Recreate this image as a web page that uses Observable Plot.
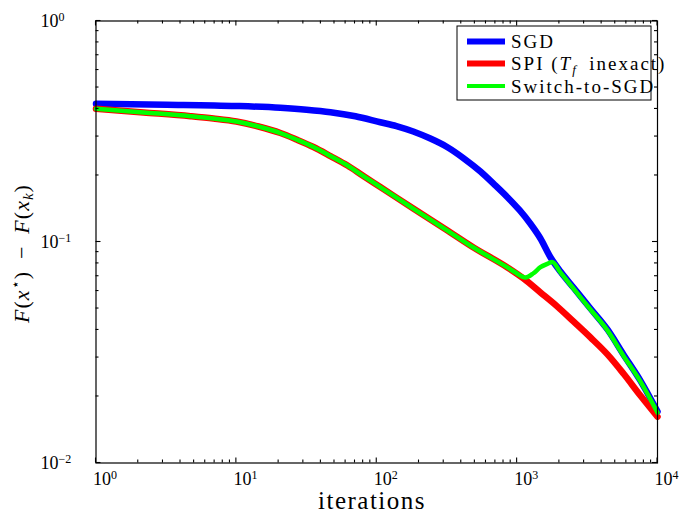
<!DOCTYPE html>
<html><head><meta charset="utf-8">
<script src="https://cdn.jsdelivr.net/npm/d3@7"></script>
<script src="https://cdn.jsdelivr.net/npm/@observablehq/plot@0.6"></script>
<style>body{margin:0;background:#fff}#chart svg{display:block}</style>
</head><body><div id="chart"></div>
<script>
// ---- data ----
const xTicks = [1, 10, 100, 1000, 10000];
const xTickLabels = ["10^0", "10^1", "10^2", "10^3", "10^4"];
const yTicks = [0.01, 0.1, 1];
const yTickLabels = ["10^-2", "10^-1", "10^0"];
const seriesNames = ["SGD", "SPI (T_f inexact)", "Switch-to-SGD"];
const seriesColors = ["#0000ff", "#ff0000", "#00ff00"];

const sgdIter = [1, 3.18, 10, 20.6, 31.6, 46.8, 70.5, 106, 138, 182, 241, 319, 414, 548, 689, 853, 1038, 1244, 1466, 1727, 2034, 2518, 3328, 4400, 5717, 7550, 10000];
const sgdGap  = [0.4219, 0.4180, 0.4124, 0.4047, 0.3968, 0.3866, 0.3705, 0.3483, 0.3348, 0.3162, 0.2938, 0.2685, 0.2399, 0.2084, 0.1820, 0.1595, 0.1396, 0.1209, 0.1037, 0.0853, 0.0735, 0.0622, 0.0500, 0.0402, 0.0310, 0.0236, 0.0171];

const spiIter = [1, 2.18, 4.71, 6.86, 10, 14.35, 20.6, 26.8, 35.4, 46.8, 61.9, 80.3, 106, 182, 319, 489, 853, 1109, 1466, 1936, 2518, 3328, 4400, 5717, 7550, 10000];
const spiGap  = [0.4006, 0.3855, 0.3709, 0.3621, 0.3509, 0.3332, 0.3112, 0.2909, 0.2691, 0.2449, 0.2219, 0.1988, 0.1773, 0.1417, 0.1127, 0.0944, 0.0767, 0.0684, 0.0591, 0.0510, 0.0437, 0.0370, 0.0310, 0.0254, 0.0202, 0.0162];

const swIter = [1, 2.18, 4.71, 6.86, 10, 14.35, 20.6, 26.8, 35.4, 46.8, 61.9, 80.3, 106, 182, 319, 489, 853, 973, 1146, 1307, 1466, 1636, 1776, 2034, 2518, 3328, 4400, 5717, 7550, 10000];
const swGap  = [0.4006, 0.3855, 0.3709, 0.3621, 0.3509, 0.3332, 0.3112, 0.2909, 0.2691, 0.2449, 0.2219, 0.1988, 0.1773, 0.1417, 0.1127, 0.0944, 0.0767, 0.0728, 0.0691, 0.0722, 0.0769, 0.0796, 0.0812, 0.0728, 0.0616, 0.0495, 0.0398, 0.0306, 0.0234, 0.0169];

const toRows = (xs, ys) => xs.map((x, i) => ({x, y: ys[i]}));
const sgd = toRows(sgdIter, sgdGap);
const spi = toRows(spiIter, spiGap);
const sw = toRows(swIter, swGap);

const minorX = [], minorY = [];
for (let d = 0; d < 4; d++) for (let m = 2; m <= 9; m++) minorX.push(m * 10 ** d);
for (let d = -2; d < 0; d++) for (let m = 2; m <= 9; m++) minorY.push(m * 10 ** d);

const FONT = "Liberation Serif";
const xLab = new Map(xTicks.map((t, i) => [t, xTickLabels[i]]));
const yLab = new Map(yTicks.map((t, i) => [t, yTickLabels[i]]));

const chart = Plot.plot({
  width: 679,
  height: 516,
  marginLeft: 95.5,
  marginRight: 22,
  marginTop: 20.5,
  marginBottom: 53.5,
  style: {fontFamily: FONT, background: "white", color: "black"},
  x: {type: "log", domain: [1, 10000]},
  y: {type: "log", domain: [0.01, 1]},
  marks: [
    Plot.line(sgd, {x: "x", y: "y", stroke: seriesColors[0], strokeWidth: 6.5, curve: "monotone-x"}),
    Plot.line(spi, {x: "x", y: "y", stroke: seriesColors[1], strokeWidth: 6.5, curve: "monotone-x"}),
    Plot.line(sw, {x: "x", y: "y", stroke: seriesColors[2], strokeWidth: 4.5, curve: "monotone-x"}),
    Plot.frame({stroke: "black", strokeWidth: 1.2}),
    Plot.axisX(xTicks, {anchor: "bottom", tickSize: 0, tickPadding: 9, fontSize: 18, dx: 9, tickFormat: d => xLab.get(d), label: null}),
    Plot.axisY(yTicks, {anchor: "left", tickSize: 0, tickPadding: 55.5, fontSize: 18, tickFormat: d => yLab.get(d), label: null})
  ]
});

document.getElementById("chart").appendChild(chart);
const svg = d3.select(chart);
const xs = chart.scale("x"), ys = chart.scale("y");
const [X0, X1] = xs.range, [Y0, Y1] = ys.range; // Y0 bottom, Y1 top

// inward ticks on all four sides, through the plot's scales
const tg = svg.append("g").attr("stroke", "black").attr("stroke-width", 1.1);
const addX = (vals, len) => vals.forEach(v => {
  const px = xs.apply(v);
  tg.append("line").attr("x1", px).attr("x2", px).attr("y1", Y0).attr("y2", Y0 - len);
  tg.append("line").attr("x1", px).attr("x2", px).attr("y1", Y1).attr("y2", Y1 + len);
});
const addY = (vals, len) => vals.forEach(v => {
  const py = ys.apply(v);
  tg.append("line").attr("y1", py).attr("y2", py).attr("x1", X0).attr("x2", X0 + len);
  tg.append("line").attr("y1", py).attr("y2", py).attr("x1", X1).attr("x2", X1 - len);
});
addX(xTicks, 5); addX(minorX, 3); addY(yTicks, 5); addY(minorY, 3);

// superscripts in tick labels
svg.selectAll("text").each(function() {
  const t = d3.select(this);
  const m = /^10\^(-?\d)$/.exec(t.text());
  if (!m) return;
  const g = this.parentNode;
  if (g && /y-axis/.test(g.getAttribute("aria-label") || "")) t.attr("text-anchor", "start");
  t.text("");
  t.append("tspan").text("10");
  t.append("tspan").attr("dy", "-0.45em").attr("font-size", "12px").text(m[1].replace("-", "\u2212"));
});

// y-axis label
const yl = svg.append("text")
  .attr("transform", "translate(29,253.5) rotate(-90)")
  .attr("text-anchor", "middle")
  .attr("font-family", FONT)
  .attr("font-size", 22)
  .attr("letter-spacing", 1)
  .attr("fill", "black");
yl.append("tspan").attr("font-style", "italic").text("F");
yl.append("tspan").text("(");
yl.append("tspan").attr("font-style", "italic").text("x");
yl.append("tspan").attr("dy", -9).attr("font-size", 14).text("\u22C6");
yl.append("tspan").attr("dy", 9).text(")\u2002\u2212\u2002");
yl.append("tspan").attr("font-style", "italic").text("F");
yl.append("tspan").text("(");
yl.append("tspan").attr("font-style", "italic").text("x");
yl.append("tspan").attr("dy", 4).attr("font-size", 15).attr("font-style", "italic").text("k");
yl.append("tspan").attr("dy", -4).text(")");

// x-axis label
svg.append("text")
  .attr("x", 372).attr("y", 509)
  .attr("text-anchor", "middle")
  .attr("font-family", FONT)
  .attr("font-size", 25)
  .attr("letter-spacing", 1.5)
  .attr("fill", "black")
  .text("iterations");

// legend
const lg = svg.append("g").attr("font-family", FONT).attr("font-size", 19).attr("text-anchor", "start");
lg.append("rect").attr("x", 457).attr("y", 26).attr("width", 194).attr("height", 74)
  .attr("fill", "white").attr("stroke", "black").attr("stroke-width", 1);
const rowY = [41.5, 63.5, 86];
const rowW = [6, 6, 4];
seriesNames.forEach((name, i) => {
  lg.append("line").attr("x1", 467).attr("x2", 505).attr("y1", rowY[i]).attr("y2", rowY[i])
    .attr("stroke", seriesColors[i]).attr("stroke-width", rowW[i]);
  const t = lg.append("text").attr("x", 511).attr("y", rowY[i]).attr("dy", "0.35em")
    .attr("fill", "black").attr("letter-spacing", 2);
  if (name.includes("T_f")) {
    t.append("tspan").text("SPI (");
    t.append("tspan").attr("font-style", "italic").text("T");
    t.append("tspan").attr("dy", 4).attr("font-size", 13).attr("font-style", "italic").text("f");
    t.append("tspan").attr("dy", -4).text("\u2002inexact)");
  } else {
    t.text(name);
  }
});
</script>
</body></html>
